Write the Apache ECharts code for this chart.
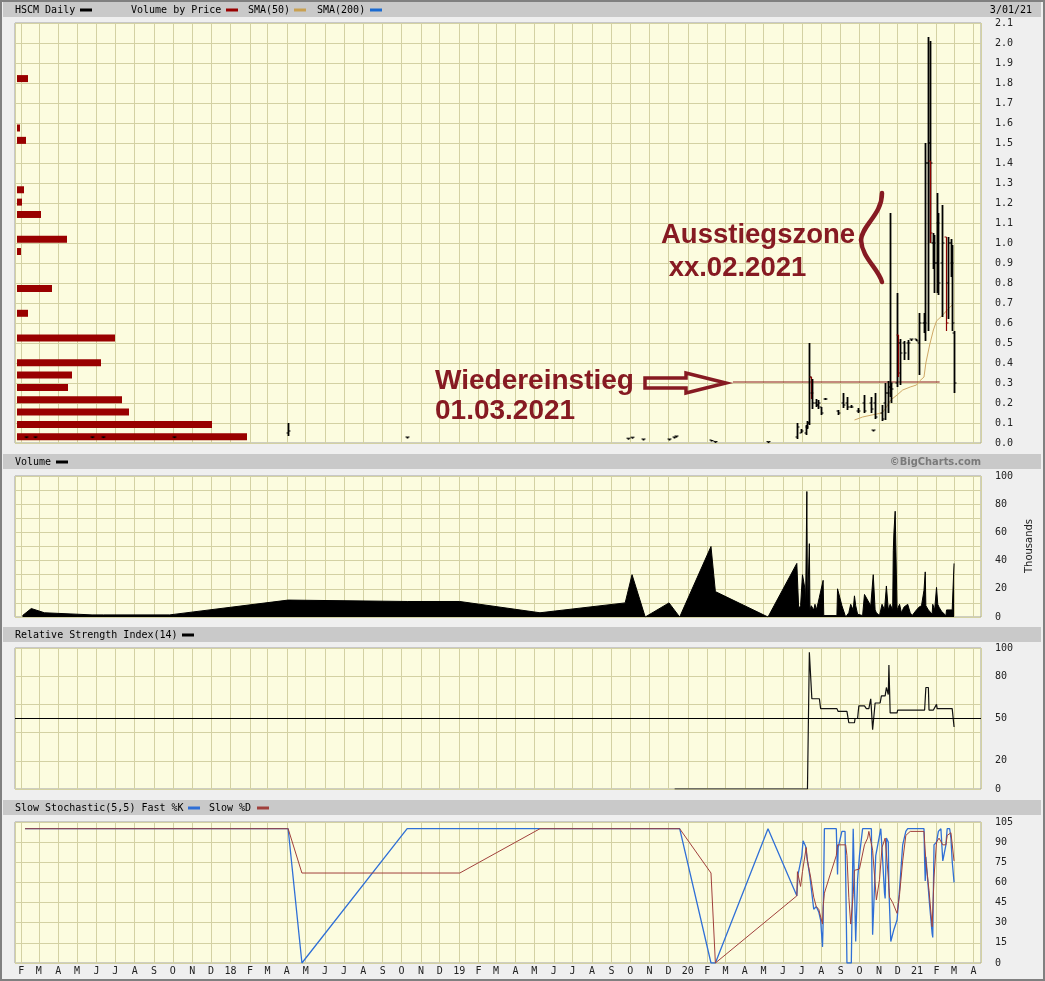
<!DOCTYPE html>
<html><head><meta charset="utf-8">
<script src="https://cdn.jsdelivr.net/npm/echarts@6/dist/echarts.min.js"></script>
<style>html,body{margin:0;padding:0;background:#efefef}#c{width:1045px;height:981px}</style>
</head><body><div id="c"></div><script>
// ---------- DATA ----------
const monthLetters = ['J','F','M','A','M','J','J','A','S','O','N','D'];
const xRange = ['2017-01-22', '2021-04-13'];
const rsiLabels = [0, 20, 50, 80, 100];

// Volume by price: 34 price bins from 0 to 2.1 (bin centres), relative volume
const vbpBins = ['0.03','0.09','0.15','0.22','0.28','0.34','0.40','0.46','0.53','0.59','0.65','0.71','0.77','0.83','0.90','0.96',
  '1.02','1.08','1.14','1.20','1.27','1.33','1.39','1.45','1.51','1.58','1.64','1.70','1.76','1.82','1.88','1.95','2.01','2.07'];
const vbpVolume = [230,195,112,105,51,55,84,0,98,0,11,0,35,0,0,4,50,0,24,5,7,0,0,0,9,3,0,0,0,11,0,0,0,0];

// price bars: [date, open, high, low, close, red]
const priceBars = [
 ['2017-02-09',0.03,0.032,0.028,0.03,0],['2017-02-23',0.03,0.032,0.028,0.03,0],['2017-05-25',0.03,0.032,0.028,0.03,0],
 ['2017-06-12',0.03,0.032,0.028,0.03,0],['2017-10-03',0.03,0.032,0.028,0.03,0],
 ['2018-04-03',0.05,0.10,0.035,0.06,0],['2018-10-10',0.03,0.03,0.03,0.03,0],
 ['2019-09-27',0.024,0.024,0.024,0.024,0],['2019-10-04',0.029,0.029,0.029,0.029,0],['2019-10-21',0.02,0.02,0.02,0.02,0],
 ['2019-12-02',0.02,0.02,0.02,0.02,0],['2019-12-10',0.03,0.03,0.03,0.03,0],['2019-12-13',0.035,0.035,0.035,0.035,0],
 ['2020-02-07',0.015,0.015,0.012,0.012,0],['2020-02-14',0.008,0.008,0.007,0.007,0],['2020-05-08',0.007,0.007,0.007,0.007,0],
 ['2020-06-24',0.03,0.10,0.02,0.08,0],['2020-06-29',0.05,0.07,0.05,0.06,0],['2020-07-07',0.05,0.09,0.04,0.08,0],
 ['2020-07-10',0.08,0.11,0.07,0.10,0],['2020-07-13',0.10,0.50,0.09,0.33,0],['2020-07-15',0.33,0.33,0.22,0.25,1],
 ['2020-07-17',0.25,0.32,0.17,0.20,0],['2020-07-23',0.20,0.22,0.18,0.19,0],['2020-07-27',0.19,0.215,0.17,0.20,0],
 ['2020-07-31',0.18,0.18,0.14,0.15,0],['2020-08-07',0.22,0.225,0.215,0.22,0],['2020-08-27',0.16,0.165,0.14,0.15,0],
 ['2020-09-04',0.20,0.25,0.175,0.19,0],['2020-09-11',0.20,0.23,0.165,0.18,0],['2020-09-18',0.18,0.19,0.175,0.18,0],
 ['2020-09-28',0.16,0.175,0.15,0.16,0],['2020-10-09',0.20,0.24,0.15,0.16,0],['2020-10-19',0.20,0.23,0.15,0.17,0],
 ['2020-10-23',0.065,0.065,0.065,0.065,0],['2020-10-26',0.20,0.25,0.12,0.13,0],['2020-11-06',0.15,0.19,0.11,0.12,0],
 ['2020-11-11',0.20,0.30,0.115,0.25,0],['2020-11-16',0.25,0.31,0.15,0.28,0],['2020-11-18',0.28,1.15,0.23,0.30,0],
 ['2020-11-20',0.25,0.30,0.20,0.27,0],['2020-11-30',0.30,0.75,0.28,0.50,0],['2020-12-02',0.54,0.54,0.33,0.35,1],
 ['2020-12-04',0.50,0.52,0.29,0.45,0],['2020-12-11',0.50,0.51,0.415,0.45,0],['2020-12-17',0.50,0.515,0.415,0.50,0],
 ['2020-12-23',0.52,0.52,0.51,0.52,0],['2020-12-31',0.52,0.52,0.51,0.51,0],['2021-01-04',0.50,0.65,0.34,0.60,0],
 ['2021-01-12',0.60,0.65,0.55,0.60,0],['2021-01-14',0.60,1.50,0.51,1.40,0],['2021-01-19',1.40,2.03,0.56,1.50,0],
 ['2021-01-21',1.50,2.01,1.00,1.40,0],['2021-01-22',1.41,1.41,1.00,1.05,1],['2021-01-26',1.00,1.05,0.87,1.00,0],
 ['2021-01-28',1.00,1.04,0.75,0.90,0],['2021-02-01',0.90,1.25,0.75,1.10,0],['2021-02-03',1.10,1.15,0.74,0.80,0],
 ['2021-02-10',0.90,1.19,0.63,1.00,0],['2021-02-16',1.03,1.03,0.56,0.60,1],['2021-02-19',0.80,1.03,0.62,1.00,0],
 ['2021-02-24',1.00,1.02,0.83,0.90,0],['2021-02-26',0.90,0.99,0.56,0.60,0],['2021-03-01',0.55,0.56,0.25,0.30,0]
];

const sma50 = [
 ['2020-09-23',0.115],['2020-10-06',0.13],['2020-10-28',0.145],['2020-11-06',0.15],['2020-11-11',0.17],['2020-11-20',0.215],
 ['2020-11-30',0.24],['2020-12-09',0.265],['2020-12-21',0.28],['2020-12-31',0.29],['2021-01-05',0.31],['2021-01-12',0.33],
 ['2021-01-15',0.40],['2021-01-21',0.49],['2021-01-27',0.565],['2021-02-01',0.61],['2021-02-11',0.64],['2021-02-18',0.665],['2021-02-26',0.69]
];

const reentryLine = [['2020-03-13',0.305],['2021-02-06',0.305]];

// volume in thousands
const volumeData = [
 ['2017-02-03',1],['2017-02-17',6],['2017-03-10',3],['2017-05-25',1.5],['2017-06-12',1.5],['2017-09-26',1.5],['2018-04-03',12],
 ['2018-10-10',11],['2019-01-02',11],['2019-05-10',3],['2019-09-23',10],['2019-10-04',30],['2019-10-25',0],['2019-12-02',10],
 ['2019-12-19',0],['2020-02-07',50],['2020-02-14',18],['2020-05-08',0],
 ['2020-06-23',38],['2020-06-26',6],['2020-06-29',8],['2020-07-01',8],['2020-07-02',30],['2020-07-06',20],['2020-07-07',8],
 ['2020-07-09',89],['2020-07-10',5],['2020-07-13',52],['2020-07-14',5],['2020-07-16',8],['2020-07-20',5],['2020-07-22',9],
 ['2020-07-24',5],['2020-07-27',10],['2020-07-29',14],['2020-07-31',15],['2020-08-04',26],['2020-08-05',1],['2020-08-26',1],
 ['2020-08-27',20],['2020-09-03',8],['2020-09-09',0],['2020-09-14',3],['2020-09-17',9],['2020-09-21',5],['2020-09-23',15],
 ['2020-09-25',8],['2020-09-28',2],['2020-10-06',1],['2020-10-09',16],['2020-10-14',12],['2020-10-19',8],['2020-10-21',7],
 ['2020-10-23',30],['2020-10-26',5],['2020-10-28',3],['2020-11-02',1],['2020-11-04',5],['2020-11-06',9],['2020-11-10',5],
 ['2020-11-13',22],['2020-11-16',5],['2020-11-19',9],['2020-11-23',5],['2020-11-24',47],['2020-11-25',60],['2020-11-27',75],
 ['2020-11-30',5],['2020-12-01',6],['2020-12-04',9],['2020-12-07',3],['2020-12-11',7],['2020-12-17',9],['2020-12-21',3],
 ['2020-12-24',1],['2020-12-31',5],['2021-01-04',7],['2021-01-08',8],['2021-01-12',19],['2021-01-14',32],['2021-01-15',8],
 ['2021-01-19',5],['2021-01-25',2],['2021-01-26',9],['2021-01-29',5],['2021-02-01',21],['2021-02-03',9],['2021-02-05',7],
 ['2021-02-09',4],['2021-02-16',1],['2021-02-17',5],['2021-02-26',5],['2021-03-01',38]
];

const rsiData = [
 ['2019-12-11',0],['2020-07-10',0],['2020-07-13',97],['2020-07-16',97],['2020-07-17',64],['2020-07-29',64],['2020-07-31',57],
 ['2020-08-26',57],['2020-08-28',55],['2020-09-11',55],['2020-09-14',47],['2020-09-23',47],['2020-09-24',50],['2020-09-28',50],
 ['2020-09-30',59],['2020-10-09',59],['2020-10-12',57],['2020-10-16',57],['2020-10-19',64],['2020-10-20',57],['2020-10-22',42],
 ['2020-10-26',61],['2020-11-03',61],['2020-11-05',66],['2020-11-11',66],['2020-11-13',72],['2020-11-16',67],['2020-11-17',88],
 ['2020-11-19',54],['2020-11-30',54],['2020-12-01',56],['2021-01-13',56],['2021-01-15',72],['2021-01-19',72],['2021-01-20',56],
 ['2021-01-27',56],['2021-01-28',55],['2021-02-01',60],['2021-02-02',57],['2021-02-26',57],['2021-03-01',44]
];

const fastK = [
 ['2017-02-07',100],['2018-04-03',100],['2018-04-25',0],['2018-10-10',100],['2019-12-19',100],['2020-02-07',0],['2020-02-14',0],
 ['2020-05-08',100],['2020-06-23',50],['2020-06-25',66],['2020-07-01',80],['2020-07-03',91],['2020-07-07',87],['2020-07-09',79],
 ['2020-07-14',64],['2020-07-20',40],['2020-07-24',42],['2020-07-28',38],['2020-07-31',32],['2020-08-03',12],['2020-08-04',30],
 ['2020-08-06',100],['2020-08-25',100],['2020-08-27',66],['2020-08-28',86],['2020-09-03',98],['2020-09-08',98],['2020-09-11',0],
 ['2020-09-18',0],['2020-09-21',100],['2020-09-22',100],['2020-09-25',16],['2020-09-28',62],['2020-10-01',80],['2020-10-06',100],
 ['2020-10-20',100],['2020-10-22',21],['2020-10-27',80],['2020-11-02',95],['2020-11-04',100],['2020-11-06',85],['2020-11-10',52],
 ['2020-11-11',48],['2020-11-13',93],['2020-11-16',90],['2020-11-17',55],['2020-11-20',16],['2020-11-25',25],['2020-11-30',32],
 ['2020-12-04',55],['2020-12-09',88],['2020-12-14',98],['2020-12-17',100],['2021-01-12',100],['2021-01-13',76],['2021-01-14',61],
 ['2021-01-15',79],['2021-01-18',78],['2021-01-21',43],['2021-01-25',22],['2021-01-26',19],['2021-01-28',88],['2021-02-01',90],
 ['2021-02-04',98],['2021-02-08',100],['2021-02-11',76],['2021-02-16',88],['2021-02-18',100],['2021-02-22',100],['2021-02-24',93],
 ['2021-02-26',76],['2021-03-01',60]
];

const slowD = [
 ['2017-02-07',100],['2018-04-03',100],['2018-04-25',67],['2019-01-02',67],['2019-05-10',100],['2019-12-19',100],['2020-02-07',67],
 ['2020-02-14',0],['2020-06-23',50],['2020-06-24',68],['2020-06-29',57],['2020-07-02',68],['2020-07-08',86],['2020-07-10',76],
 ['2020-07-15',64],['2020-07-20',49],['2020-07-24',42],['2020-07-28',40],['2020-08-03',29],['2020-08-04',42],['2020-08-06',52],
 ['2020-08-14',64],['2020-08-25',80],['2020-08-27',88],['2020-09-09',88],['2020-09-11',80],['2020-09-14',49],['2020-09-17',29],
 ['2020-09-21',51],['2020-09-23',69],['2020-10-01',70],['2020-10-09',88],['2020-10-14',93],['2020-10-16',98],['2020-10-22',84],
 ['2020-10-28',47],['2020-11-02',62],['2020-11-06',86],['2020-11-11',93],['2020-11-16',64],['2020-11-18',49],['2020-11-23',45],
 ['2020-11-30',37],['2020-12-04',51],['2020-12-09',76],['2020-12-14',95],['2020-12-21',98],['2021-01-12',98],['2021-01-15',76],
 ['2021-01-20',54],['2021-01-25',27],['2021-01-28',64],['2021-02-01',90],['2021-02-05',93],['2021-02-11',88],['2021-02-16',88],
 ['2021-02-18',95],['2021-02-24',97],['2021-03-01',76]
];

// ---------- STYLE ----------
const BG = '#fcfcdf', GRIDC = '#d3d1a3', BORDER = '#a0a0a0', DARKRED = '#861a22';
const MONO = '"DejaVu Sans Mono", monospace';
const DAY = 86400000;
const L = 15, W = 966;
const panels = [ {top:23,height:420}, {top:476,height:141}, {top:648,height:141}, {top:822,height:141} ];

function monthFmt(v) {
  const d = new Date(v); const m = d.getMonth();
  return m === 0 ? String(d.getFullYear()).slice(2) : monthLetters[m];
}
function xAxisFor(i, labels) {
  return { type:'time', gridIndex:i, min:xRange[0], max:xRange[1], splitNumber:52,
    minInterval:28*DAY, maxInterval:31*DAY,
    axisLine:{show:false}, axisTick:{show:false},
    axisLabel:{show:labels, formatter:monthFmt, color:'#222', fontFamily:MONO, fontSize:10, margin:3,
      showMinLabel:false, showMaxLabel:false},
    splitLine:{show:true, lineStyle:{color:GRIDC, width:1}} };
}
function yAxisFor(i, min, max, interval, fmt, splitColor) {
  return { type:'value', gridIndex:i, position:'right', min, max, interval,
    axisLine:{show:false}, axisTick:{show:false},
    axisLabel:{formatter:fmt, color:'#222', fontFamily:MONO, fontSize:10, margin:14, align:'left'},
    splitLine:{show:true, lineStyle:{color:splitColor || GRIDC, width:1}} };
}

function renderOHLC(params, api) {
  const t = api.value(0);
  const x = Math.round(api.coord([t, 0])[0]) + 0.5;
  const o = api.coord([t, api.value(1)])[1];
  const h = api.coord([t, api.value(2)])[1];
  const l = api.coord([t, api.value(3)])[1];
  const c = api.coord([t, api.value(4)])[1];
  const red = api.value(5) === 1;
  const col = red ? '#8b0000' : '#000';
  return { type:'group', children:[
    {type:'line', shape:{x1:x, y1:h, x2:x, y2:Math.max(l, h + 1.5)}, style:{stroke:col, lineWidth: red ? 1.2 : 1.8}},
    {type:'line', shape:{x1:x-2, y1:o, x2:x, y2:o}, style:{stroke:col, lineWidth:1}},
    {type:'line', shape:{x1:x, y1:c, x2:x+2, y2:c}, style:{stroke:col, lineWidth:1}}
  ]};
}

const hdrFont = '10px ' + MONO;
function hdrText(x, y, text, align) {
  return {type:'text', x, y, z:50, style:{text, font:hdrFont, fill:'#000', align:align||'left', verticalAlign:'middle'}};
}
function marker(x, y, color) {
  return {type:'rect', z:50, shape:{x, y:y-1.5, width:12, height:3}, style:{fill:color}};
}
function band(y) { return {type:'rect', z:40, shape:{x:3, y, width:1038, height:15}, style:{fill:'#c9c9c9'}}; }
function annText(x, y, text, size) {
  return {type:'text', x, y, z:100, style:{text, font:'bold ' + size + 'px "Liberation Sans", Arial, sans-serif', fill:DARKRED, align:'left', verticalAlign:'middle'}};
}

const option = {
  animation:false,
  backgroundColor:'#efefef',
  grid: panels.map(p => ({left:L, top:p.top, width:W, height:p.height, show:true, backgroundColor:BG,
      borderColor:BORDER, borderWidth:1, outerBoundsMode:'none', containLabel:false}))
    .concat([{left:17, top:23, width:964, height:420, show:false, outerBoundsMode:'none', containLabel:false}]),
  xAxis: [xAxisFor(0,false), xAxisFor(1,false), xAxisFor(2,false), xAxisFor(3,true),
    {type:'value', gridIndex:4, min:0, max:964, show:false}],
  yAxis: [
    yAxisFor(0, 0, 2.1, 0.1, v => v.toFixed(1)),
    yAxisFor(1, 0, 100, 10, v => (Math.round(v) % 20 === 0 ? String(Math.round(v)) : '')),
    yAxisFor(2, 0, 100, 10, v => (rsiLabels.indexOf(Math.round(v)) >= 0 ? String(Math.round(v)) : ''), [GRIDC, 'rgba(0,0,0,0)']),
    yAxisFor(3, 0, 105, 15, v => String(Math.round(v))),
    {type:'category', gridIndex:4, data:vbpBins, show:false}
  ],
  series: [
    {type:'bar', xAxisIndex:4, yAxisIndex:4, data:vbpVolume, barWidth:7, itemStyle:{color:'#990000'}, z:1, silent:true},
    {type:'line', xAxisIndex:0, yAxisIndex:0, data:reentryLine, symbol:'none', lineStyle:{color:'#8b1a1a', width:1}, z:2, silent:true},
    {type:'line', xAxisIndex:0, yAxisIndex:0, data:sma50, symbol:'none', lineStyle:{color:'#cfa866', width:1}, z:3, silent:true},
    {type:'custom', xAxisIndex:0, yAxisIndex:0, data:priceBars, renderItem:renderOHLC, encode:{x:0, y:[1,2,3,4]}, z:4, silent:true},
    {type:'line', xAxisIndex:1, yAxisIndex:1, data:volumeData, symbol:'none', lineStyle:{color:'#000', width:1},
      areaStyle:{color:'#000', opacity:1}, z:3, silent:true},
    {type:'line', xAxisIndex:2, yAxisIndex:2, data:rsiData, symbol:'none', lineStyle:{color:'#111', width:1.2}, z:3, silent:true,
      markLine:{silent:true, symbol:'none', label:{show:false}, lineStyle:{color:'#000', width:1, type:'solid'}, data:[{yAxis:50}]}},
    {type:'line', xAxisIndex:3, yAxisIndex:3, data:fastK, symbol:'none', lineStyle:{color:'#2f6fd6', width:1.3}, z:3, silent:true},
    {type:'line', xAxisIndex:3, yAxisIndex:3, data:slowD, symbol:'none', lineStyle:{color:'#a0403c', width:1}, z:4, silent:true}
  ],
  graphic: [
    band(2), band(454), band(627), band(800),
    hdrText(15, 10, 'HSCM Daily'), marker(80, 10, '#000'),
    hdrText(131, 10, 'Volume by Price'), marker(226, 10, '#990000'),
    hdrText(248, 10, 'SMA(50)'), marker(294, 10, '#c9a050'),
    hdrText(317, 10, 'SMA(200)'), marker(370, 10, '#1a6ad0'),
    hdrText(1032, 10, '3/01/21', 'right'),
    hdrText(15, 462, 'Volume'), marker(56, 462, '#000'),
    {type:'text', x:981, y:462, z:50, style:{text:'\u00A9BigCharts.com', font:'bold 11px "DejaVu Sans Condensed", sans-serif', fill:'#7a7a7a', align:'right', verticalAlign:'middle'}},
    hdrText(15, 635, 'Relative Strength Index(14)'), marker(182, 635, '#000'),
    hdrText(15, 808, 'Slow Stochastic(5,5) Fast %K'), marker(188, 808, '#2f6fd6'),
    hdrText(209, 808, 'Slow %D'), marker(257, 808, '#a0403c'),
    {type:'text', x:1029, y:546, rotation:Math.PI/2, z:50, style:{text:'Thousands', font:'10px "DejaVu Sans", sans-serif', fill:'#222', align:'center', verticalAlign:'middle'}},
    annText(661, 235, 'Ausstiegszone', 27.5),
    annText(661, 268, ' xx.02.2021', 27.5),
    annText(435, 381, 'Wiedereinstieg', 28),
    annText(435, 411, '01.03.2021', 28),
    {type:'bezierCurve', z:100, shape:{x1:882, y1:193, cpx1:882, cpy1:215, cpx2:862, cpy2:225, x2:861, y2:240},
      style:{fill:null, stroke:DARKRED, lineWidth:4.5, lineCap:'round'}},
    {type:'bezierCurve', z:100, shape:{x1:861, y1:240, cpx1:862, cpy1:258, cpx2:878, cpy2:268, x2:882, y2:282},
      style:{fill:null, stroke:DARKRED, lineWidth:4.5, lineCap:'round'}},
    {type:'polygon', z:100, shape:{points:[[645,378],[686,378],[686,373],[726,383],[686,393],[686,388],[645,388]]},
      style:{fill:null, stroke:DARKRED, lineWidth:3.5, lineJoin:'miter'}},
    {type:'rect', z:120, shape:{x:1, y:1, width:1043, height:979}, style:{fill:null, stroke:'#808080', lineWidth:2}}
  ]
};
const chart = echarts.init(document.getElementById('c'), null, {renderer:'canvas', width:1045, height:981});
chart.setOption(option);
</script></body></html>
